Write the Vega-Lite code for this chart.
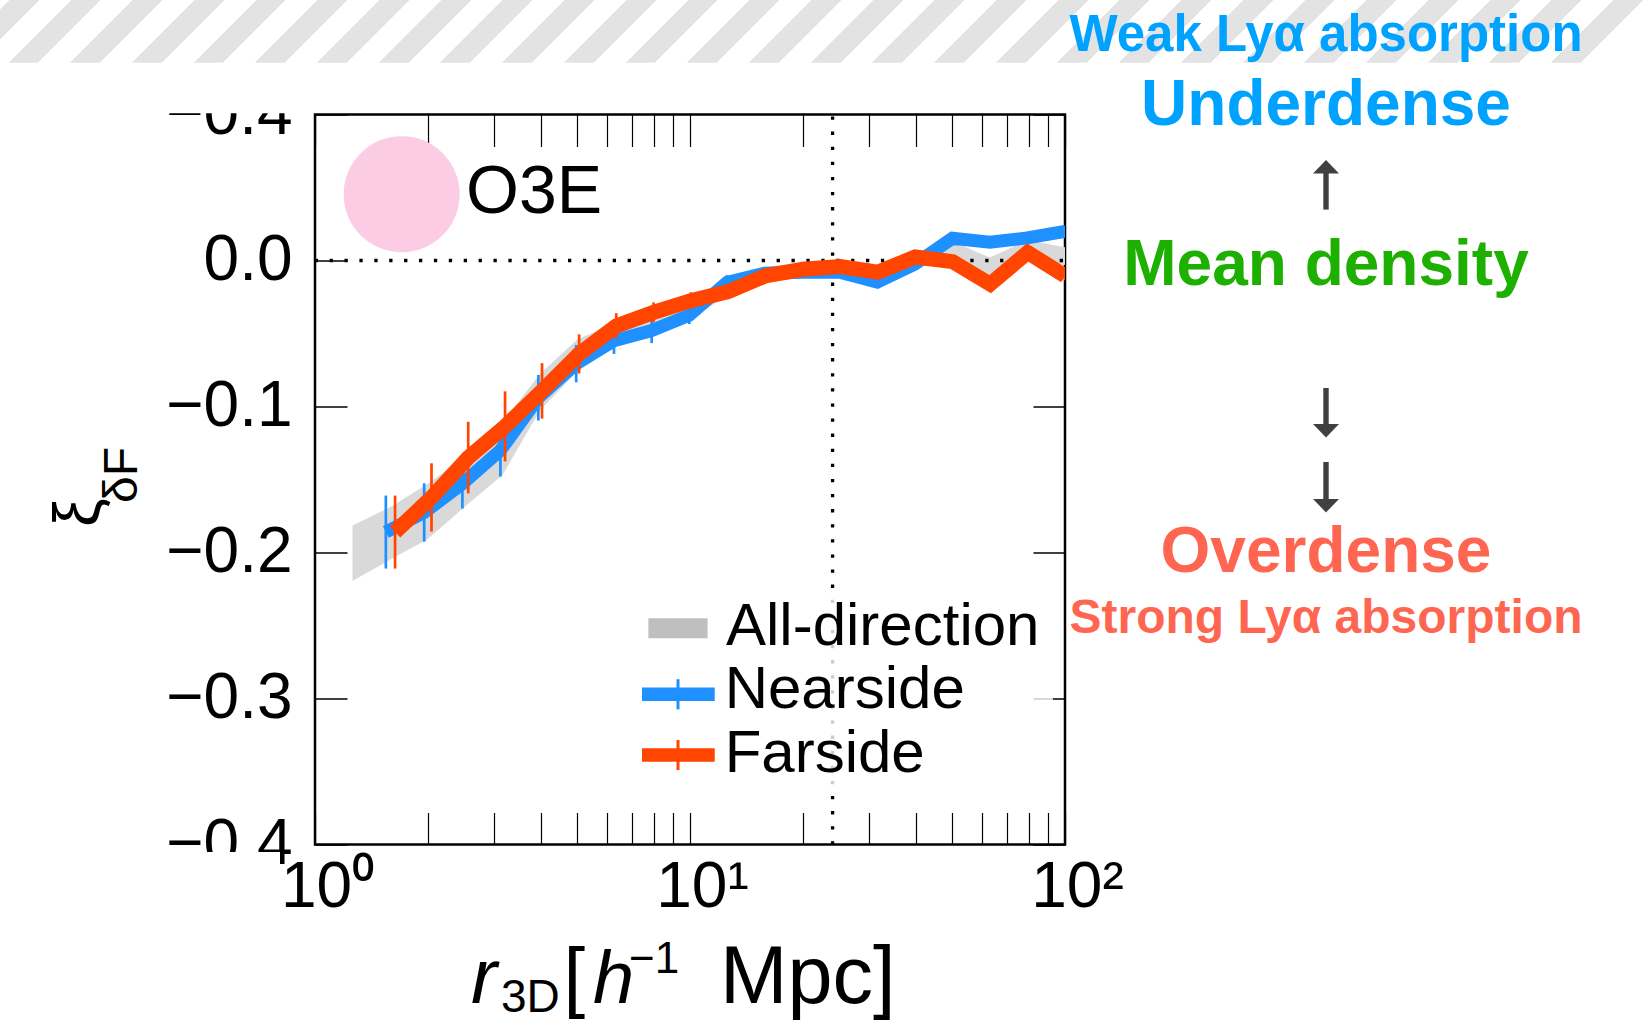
{
  "$schema": "https://vega.github.io/schema/vega-lite/v6.json",
  "width": 750,
  "height": 730,
  "autosize": {"type": "none"},
  "padding": {"left": 315, "top": 114.5, "right": 585, "bottom": 178.5},
  "background": "white",
  "config": {
    "view": {"stroke": "black", "strokeWidth": 2.5},
    "axis": {"grid": false, "domain": false, "tickColor": "black", "labelColor": "black", "labelFont": "Liberation Sans", "labelFontSize": 64}
  },
  "data": {"values": [{}]},
  "datasets": {
    "all": [
      {"r": 1.2589, "lo": -0.2195, "hi": -0.1815},
      {"r": 1.5849, "lo": -0.205, "hi": -0.169},
      {"r": 1.9953, "lo": -0.191, "hi": -0.153},
      {"r": 2.5119, "lo": -0.1685, "hi": -0.1345},
      {"r": 3.1623, "lo": -0.147, "hi": -0.111},
      {"r": 3.9811, "lo": -0.1025, "hi": -0.0775},
      {"r": 5.0119, "lo": -0.076, "hi": -0.054},
      {"r": 6.3096, "lo": -0.059, "hi": -0.043},
      {"r": 7.9433, "lo": -0.05, "hi": -0.036},
      {"r": 10, "lo": -0.04, "hi": -0.028},
      {"r": 12.589, "lo": -0.024, "hi": -0.012},
      {"r": 15.849, "lo": -0.0145, "hi": -0.0045},
      {"r": 19.953, "lo": -0.012, "hi": -0.002},
      {"r": 25.119, "lo": -0.011, "hi": -0.001},
      {"r": 31.623, "lo": -0.016, "hi": -0.006},
      {"r": 39.811, "lo": -0.005, "hi": 0.005},
      {"r": 50.119, "lo": 0.001, "hi": 0.013},
      {"r": 63.096, "lo": -0.01, "hi": 0.002},
      {"r": 79.433, "lo": 0.002, "hi": 0.014},
      {"r": 100, "lo": -0.003, "hi": 0.009}
    ],
    "near": [
      {"r": 1.545, "y": -0.186, "lo": -0.211, "hi": -0.161},
      {"r": 1.955, "y": -0.1726, "lo": -0.1926, "hi": -0.1526},
      {"r": 2.472, "y": -0.1529, "lo": -0.1699, "hi": -0.1359},
      {"r": 3.122, "y": -0.13, "lo": -0.148, "hi": -0.112},
      {"r": 3.941, "y": -0.094, "lo": -0.1096, "hi": -0.0784},
      {"r": 4.972, "y": -0.0706, "lo": -0.0834, "hi": -0.0578},
      {"r": 6.27, "y": -0.055, "lo": -0.064, "hi": -0.046},
      {"r": 7.903, "y": -0.048, "lo": -0.0566, "hi": -0.0394},
      {"r": 9.96, "y": -0.0375, "lo": -0.0435, "hi": -0.0315},
      {"r": 12.55, "y": -0.015, "lo": -0.02, "hi": -0.01},
      {"r": 15.81, "y": -0.0088, "lo": -0.0128, "hi": -0.0048},
      {"r": 19.91, "y": -0.008, "lo": -0.012, "hi": -0.004},
      {"r": 25.08, "y": -0.008, "lo": -0.012, "hi": -0.004},
      {"r": 31.58, "y": -0.0148, "lo": -0.0188, "hi": -0.0108},
      {"r": 39.77, "y": -0.0025, "lo": -0.0065, "hi": 0.0015},
      {"r": 50.08, "y": 0.0152, "lo": 0.0112, "hi": 0.0192},
      {"r": 63.06, "y": 0.0125, "lo": 0.0085, "hi": 0.0165},
      {"r": 79.39, "y": 0.0155, "lo": 0.0115, "hi": 0.0195},
      {"r": 99.96, "y": 0.02, "lo": 0.016, "hi": 0.024}
    ],
    "far": [
      {"r": 1.635, "y": -0.186, "lo": -0.211, "hi": -0.161},
      {"r": 2.045, "y": -0.1623, "lo": -0.1857, "hi": -0.1389},
      {"r": 2.562, "y": -0.135, "lo": -0.1595, "hi": -0.1105},
      {"r": 3.212, "y": -0.1136, "lo": -0.1376, "hi": -0.0896},
      {"r": 4.031, "y": -0.0893, "lo": -0.1083, "hi": -0.0703},
      {"r": 5.062, "y": -0.064, "lo": -0.0774, "hi": -0.0506},
      {"r": 6.36, "y": -0.0448, "lo": -0.0535, "hi": -0.0361},
      {"r": 7.993, "y": -0.0355, "lo": -0.0423, "hi": -0.0287},
      {"r": 10.05, "y": -0.0275, "lo": -0.0332, "hi": -0.0218},
      {"r": 12.64, "y": -0.0213, "lo": -0.0259, "hi": -0.0167},
      {"r": 15.9, "y": -0.0105, "lo": -0.014, "hi": -0.007},
      {"r": 20.0, "y": -0.006, "lo": -0.009, "hi": -0.003},
      {"r": 25.17, "y": -0.0042, "lo": -0.0072, "hi": -0.0012},
      {"r": 31.67, "y": -0.008, "lo": -0.011, "hi": -0.005},
      {"r": 39.86, "y": 0.0024, "lo": -0.0006, "hi": 0.0054},
      {"r": 50.17, "y": -0.0008, "lo": -0.0038, "hi": 0.0022},
      {"r": 63.15, "y": -0.0162, "lo": -0.0192, "hi": -0.0132},
      {"r": 79.48, "y": 0.0055, "lo": 0.0025, "hi": 0.0085},
      {"r": 100.05, "y": -0.0105, "lo": -0.0135, "hi": -0.0075}
    ]
  },
  "resolve": {"axis": {"x": "independent", "y": "independent"}},
  "layer": [
    {
      "mark": {"type": "rect", "fill": {"gradient": "linear", "x1": 0, "y1": 0, "x2": 1, "y2": 0.038, "stops": [
        {"offset": 0, "color": "#ffffff"},
        {"offset": 0.0056, "color": "#ffffff"}, {"offset": 0.0056, "color": "#e3e3e3"}, {"offset": 0.0238, "color": "#e3e3e3"}, {"offset": 0.0238, "color": "#ffffff"},
        {"offset": 0.043, "color": "#ffffff"}, {"offset": 0.043, "color": "#e3e3e3"}, {"offset": 0.0611, "color": "#e3e3e3"}, {"offset": 0.0611, "color": "#ffffff"},
        {"offset": 0.0803, "color": "#ffffff"}, {"offset": 0.0803, "color": "#e3e3e3"}, {"offset": 0.0985, "color": "#e3e3e3"}, {"offset": 0.0985, "color": "#ffffff"},
        {"offset": 0.1177, "color": "#ffffff"}, {"offset": 0.1177, "color": "#e3e3e3"}, {"offset": 0.1358, "color": "#e3e3e3"}, {"offset": 0.1358, "color": "#ffffff"},
        {"offset": 0.155, "color": "#ffffff"}, {"offset": 0.155, "color": "#e3e3e3"}, {"offset": 0.1731, "color": "#e3e3e3"}, {"offset": 0.1731, "color": "#ffffff"},
        {"offset": 0.1923, "color": "#ffffff"}, {"offset": 0.1923, "color": "#e3e3e3"}, {"offset": 0.2105, "color": "#e3e3e3"}, {"offset": 0.2105, "color": "#ffffff"},
        {"offset": 0.2297, "color": "#ffffff"}, {"offset": 0.2297, "color": "#e3e3e3"}, {"offset": 0.2478, "color": "#e3e3e3"}, {"offset": 0.2478, "color": "#ffffff"},
        {"offset": 0.267, "color": "#ffffff"}, {"offset": 0.267, "color": "#e3e3e3"}, {"offset": 0.2852, "color": "#e3e3e3"}, {"offset": 0.2852, "color": "#ffffff"},
        {"offset": 0.3044, "color": "#ffffff"}, {"offset": 0.3044, "color": "#e3e3e3"}, {"offset": 0.3225, "color": "#e3e3e3"}, {"offset": 0.3225, "color": "#ffffff"},
        {"offset": 0.3417, "color": "#ffffff"}, {"offset": 0.3417, "color": "#e3e3e3"}, {"offset": 0.3598, "color": "#e3e3e3"}, {"offset": 0.3598, "color": "#ffffff"},
        {"offset": 0.379, "color": "#ffffff"}, {"offset": 0.379, "color": "#e3e3e3"}, {"offset": 0.3972, "color": "#e3e3e3"}, {"offset": 0.3972, "color": "#ffffff"},
        {"offset": 0.4164, "color": "#ffffff"}, {"offset": 0.4164, "color": "#e3e3e3"}, {"offset": 0.4345, "color": "#e3e3e3"}, {"offset": 0.4345, "color": "#ffffff"},
        {"offset": 0.4537, "color": "#ffffff"}, {"offset": 0.4537, "color": "#e3e3e3"}, {"offset": 0.4719, "color": "#e3e3e3"}, {"offset": 0.4719, "color": "#ffffff"},
        {"offset": 0.4911, "color": "#ffffff"}, {"offset": 0.4911, "color": "#e3e3e3"}, {"offset": 0.5092, "color": "#e3e3e3"}, {"offset": 0.5092, "color": "#ffffff"},
        {"offset": 0.5284, "color": "#ffffff"}, {"offset": 0.5284, "color": "#e3e3e3"}, {"offset": 0.5465, "color": "#e3e3e3"}, {"offset": 0.5465, "color": "#ffffff"},
        {"offset": 0.5657, "color": "#ffffff"}, {"offset": 0.5657, "color": "#e3e3e3"}, {"offset": 0.5839, "color": "#e3e3e3"}, {"offset": 0.5839, "color": "#ffffff"},
        {"offset": 0.6031, "color": "#ffffff"}, {"offset": 0.6031, "color": "#e3e3e3"}, {"offset": 0.6212, "color": "#e3e3e3"}, {"offset": 0.6212, "color": "#ffffff"},
        {"offset": 0.6404, "color": "#ffffff"}, {"offset": 0.6404, "color": "#e3e3e3"}, {"offset": 0.6586, "color": "#e3e3e3"}, {"offset": 0.6586, "color": "#ffffff"},
        {"offset": 0.6778, "color": "#ffffff"}, {"offset": 0.6778, "color": "#e3e3e3"}, {"offset": 0.6959, "color": "#e3e3e3"}, {"offset": 0.6959, "color": "#ffffff"},
        {"offset": 0.7151, "color": "#ffffff"}, {"offset": 0.7151, "color": "#e3e3e3"}, {"offset": 0.7332, "color": "#e3e3e3"}, {"offset": 0.7332, "color": "#ffffff"},
        {"offset": 0.7524, "color": "#ffffff"}, {"offset": 0.7524, "color": "#e3e3e3"}, {"offset": 0.7706, "color": "#e3e3e3"}, {"offset": 0.7706, "color": "#ffffff"},
        {"offset": 0.7898, "color": "#ffffff"}, {"offset": 0.7898, "color": "#e3e3e3"}, {"offset": 0.8079, "color": "#e3e3e3"}, {"offset": 0.8079, "color": "#ffffff"},
        {"offset": 0.8271, "color": "#ffffff"}, {"offset": 0.8271, "color": "#e3e3e3"}, {"offset": 0.8453, "color": "#e3e3e3"}, {"offset": 0.8453, "color": "#ffffff"},
        {"offset": 0.8645, "color": "#ffffff"}, {"offset": 0.8645, "color": "#e3e3e3"}, {"offset": 0.8826, "color": "#e3e3e3"}, {"offset": 0.8826, "color": "#ffffff"},
        {"offset": 0.9018, "color": "#ffffff"}, {"offset": 0.9018, "color": "#e3e3e3"}, {"offset": 0.9199, "color": "#e3e3e3"}, {"offset": 0.9199, "color": "#ffffff"},
        {"offset": 0.9391, "color": "#ffffff"}, {"offset": 0.9391, "color": "#e3e3e3"}, {"offset": 0.9573, "color": "#e3e3e3"}, {"offset": 0.9573, "color": "#ffffff"},
        {"offset": 0.9765, "color": "#ffffff"}, {"offset": 0.9765, "color": "#e3e3e3"}, {"offset": 0.9946, "color": "#e3e3e3"}, {"offset": 0.9946, "color": "#ffffff"},
        {"offset": 1, "color": "#ffffff"}
      ]}},
      "encoding": {
        "x": {"datum": 0.1445, "type": "quantitative", "axis": null},
        "x2": {"datum": 3631},
        "y": {"datum": 0.17842, "type": "quantitative", "axis": null},
        "y2": {"datum": 0.13548}
      }
    },
    {
      "mark": {"type": "rect", "fill": "white"},
      "encoding": {
        "x": {"datum": 0.3631, "type": "quantitative", "axis": null},
        "x2": {"datum": 0.912},
        "y": {"datum": 0.10082, "type": "quantitative", "axis": null},
        "y2": {"datum": 0.13459}
      }
    },
    {
      "mark": {"type": "rect", "fill": "white"},
      "encoding": {
        "x": {"datum": 0.3631, "type": "quantitative", "axis": null},
        "x2": {"datum": 0.8066},
        "y": {"datum": -0.40514, "type": "quantitative", "axis": null},
        "y2": {"datum": -0.4195}
      }
    },
    {
      "data": {"name": "all"},
      "mark": {"type": "area", "fill": "#d9d9d9", "opacity": 1, "clip": true},
      "encoding": {
        "x": {"field": "r", "type": "quantitative",
          "scale": {"type": "log", "domain": [1, 100], "nice": false},
          "axis": {"orient": "bottom", "values": [1, 2, 3, 4, 5, 6, 7, 8, 9, 10, 20, 30, 40, 50, 60, 70, 80, 90, 100],
            "labelExpr": "datum.value == 1 ? '10⁰' : datum.value == 10 ? '10¹' : datum.value == 100 ? '10²' : ''",
            "tickSize": -32, "tickWidth": 1.2, "labelPadding": 43, "labelOffset": 12, "labelOverlap": false, "labelFlush": false, "labelBound": false, "labelBaseline": "top", "title": null}},
        "y": {"field": "lo", "type": "quantitative",
          "scale": {"domain": [-0.4, 0.1], "nice": false, "zero": false},
          "axis": {"orient": "left", "values": [-0.4, -0.3, -0.2, -0.1, 0, 0.1],
            "labelExpr": "datum.value > 0.05 ? '−0.4' : datum.value > -0.05 ? '0.0' : datum.value > -0.15 ? '−0.1' : datum.value > -0.25 ? '−0.2' : datum.value > -0.35 ? '−0.3' : '−0.4'",
            "tickSize": -32, "tickWidth": 1.5, "labelPadding": 55, "labelOffset": 0, "labelOverlap": false, "labelFlush": false, "labelBound": false, "labelBaseline": "middle", "title": null,
            "encode": {"labels": {"update": {"dy": {"signal": "datum.value > 0.05 ? 2 : -4"}}}}}},
        "y2": {"field": "hi"}
      }
    },
    {
      "mark": {"type": "rule", "color": "black", "strokeWidth": 3.3, "strokeDash": [3.3, 11.6], "strokeDashOffset": -2},
      "encoding": {"y": {"datum": 0, "type": "quantitative", "axis": null}}
    },
    {
      "mark": {"type": "rule", "color": "black", "strokeWidth": 3.3, "strokeDash": [3.3, 11.8], "strokeDashOffset": -2},
      "encoding": {"x": {"datum": 24, "type": "quantitative", "axis": null}}
    },
    {
      "data": {"name": "near"},
      "mark": {"type": "line", "color": "#1e90ff", "strokeWidth": 13, "strokeJoin": "miter", "strokeCap": "butt", "clip": true},
      "encoding": {
        "x": {"field": "r", "type": "quantitative",
          "axis": {"orient": "top", "values": [1, 2, 3, 4, 5, 6, 7, 8, 9, 10, 20, 30, 40, 50, 60, 70, 80, 90, 100], "labels": false, "tickSize": -32, "tickWidth": 1.2, "title": null}},
        "y": {"field": "y", "type": "quantitative",
          "axis": {"orient": "right", "values": [-0.4, -0.3, -0.2, -0.1, 0, 0.1], "labels": false, "tickSize": -32, "tickWidth": 1.5, "title": null}}
      }
    },
    {
      "data": {"name": "near"},
      "mark": {"type": "rule", "color": "#1e90ff", "strokeWidth": 2.7, "clip": true},
      "encoding": {
        "x": {"field": "r", "type": "quantitative", "axis": null},
        "y": {"field": "lo", "type": "quantitative", "axis": null},
        "y2": {"field": "hi"}
      }
    },
    {
      "data": {"name": "far"},
      "mark": {"type": "line", "color": "#ff4500", "strokeWidth": 15, "strokeJoin": "miter", "strokeCap": "butt", "clip": true},
      "encoding": {
        "x": {"field": "r", "type": "quantitative", "axis": null},
        "y": {"field": "y", "type": "quantitative", "axis": null}
      }
    },
    {
      "data": {"name": "far"},
      "mark": {"type": "rule", "color": "#ff4500", "strokeWidth": 2.7, "clip": true},
      "encoding": {
        "x": {"field": "r", "type": "quantitative", "axis": null},
        "y": {"field": "lo", "type": "quantitative", "axis": null},
        "y2": {"field": "hi"}
      }
    },
    {
      "mark": {"type": "point", "shape": "circle", "filled": true, "color": "#fbcce4", "opacity": 1, "size": 13456, "strokeWidth": 0},
      "encoding": {
        "x": {"datum": 1.7026, "type": "quantitative", "axis": null},
        "y": {"datum": 0.04541, "type": "quantitative", "axis": null}
      }
    },
    {
      "mark": {"type": "text", "text": "O3E", "font": "Liberation Sans", "fontSize": 68, "align": "left", "baseline": "alphabetic", "fill": "black"},
      "encoding": {
        "x": {"datum": 2.5278, "type": "quantitative", "axis": null},
        "y": {"datum": 0.03233, "type": "quantitative", "axis": null}
      }
    },
    {
      "mark": {"type": "rect", "fill": "white", "opacity": 0.8},
      "encoding": {
        "x": {"datum": 6.918, "type": "quantitative", "axis": null},
        "x2": {"datum": 92.9},
        "y": {"datum": -0.2298, "type": "quantitative", "axis": null},
        "y2": {"datum": -0.3627}
      }
    },
    {
      "mark": {"type": "rect", "fill": "#bfbfbf"},
      "encoding": {
        "x": {"datum": 7.745, "type": "quantitative", "axis": null},
        "x2": {"datum": 11.14},
        "y": {"datum": -0.2451, "type": "quantitative", "axis": null},
        "y2": {"datum": -0.2588}
      }
    },
    {
      "mark": {"type": "rule", "color": "#1e90ff", "strokeWidth": 13.3, "strokeCap": "butt"},
      "encoding": {
        "x": {"datum": 7.447, "type": "quantitative", "axis": null},
        "x2": {"datum": 11.64},
        "y": {"datum": -0.2971, "type": "quantitative", "axis": null}
      }
    },
    {
      "mark": {"type": "rule", "color": "#1e90ff", "strokeWidth": 3, "strokeCap": "butt"},
      "encoding": {
        "x": {"datum": 9.29, "type": "quantitative", "axis": null},
        "y": {"datum": -0.2868, "type": "quantitative", "axis": null},
        "y2": {"datum": -0.3074}
      }
    },
    {
      "mark": {"type": "rule", "color": "#ff4500", "strokeWidth": 13.3, "strokeCap": "butt"},
      "encoding": {
        "x": {"datum": 7.447, "type": "quantitative", "axis": null},
        "x2": {"datum": 11.64},
        "y": {"datum": -0.3387, "type": "quantitative", "axis": null}
      }
    },
    {
      "mark": {"type": "rule", "color": "#ff4500", "strokeWidth": 3, "strokeCap": "butt"},
      "encoding": {
        "x": {"datum": 9.29, "type": "quantitative", "axis": null},
        "y": {"datum": -0.3284, "type": "quantitative", "axis": null},
        "y2": {"datum": -0.349}
      }
    },
    {
      "mark": {"type": "text", "text": "All-direction", "font": "Liberation Sans", "fontSize": 60, "align": "left", "baseline": "alphabetic", "fill": "black"},
      "encoding": {
        "x": {"datum": 12.474, "type": "quantitative", "axis": null},
        "y": {"datum": -0.26336, "type": "quantitative", "axis": null}
      }
    },
    {
      "mark": {"type": "text", "text": "Nearside", "font": "Liberation Sans", "fontSize": 60, "align": "left", "baseline": "alphabetic", "fill": "black"},
      "encoding": {
        "x": {"datum": 12.372, "type": "quantitative", "axis": null},
        "y": {"datum": -0.30671, "type": "quantitative", "axis": null}
      }
    },
    {
      "mark": {"type": "text", "text": "Farside", "font": "Liberation Sans", "fontSize": 60, "align": "left", "baseline": "alphabetic", "fill": "black"},
      "encoding": {
        "x": {"datum": 12.37, "type": "quantitative", "axis": null},
        "y": {"datum": -0.35014, "type": "quantitative", "axis": null}
      }
    },
    {
      "mark": {"type": "text", "text": "Weak Lyα absorption", "font": "Liberation Sans", "fontWeight": "bold", "fontSize": 51, "align": "center", "baseline": "alphabetic", "fill": "#00a2ff"},
      "encoding": {
        "x": {"datum": 496.6, "type": "quantitative", "axis": null},
        "y": {"datum": 0.1438, "type": "quantitative", "axis": null}
      }
    },
    {
      "mark": {"type": "text", "text": "Underdense", "font": "Liberation Sans", "fontWeight": "bold", "fontSize": 64, "align": "center", "baseline": "alphabetic", "fill": "#00a2ff"},
      "encoding": {
        "x": {"datum": 496.6, "type": "quantitative", "axis": null},
        "y": {"datum": 0.09253, "type": "quantitative", "axis": null}
      }
    },
    {
      "mark": {"type": "text", "text": "Mean density", "font": "Liberation Sans", "fontWeight": "bold", "fontSize": 64, "align": "center", "baseline": "alphabetic", "fill": "#1db000"},
      "encoding": {
        "x": {"datum": 496.6, "type": "quantitative", "axis": null},
        "y": {"datum": -0.01705, "type": "quantitative", "axis": null}
      }
    },
    {
      "mark": {"type": "text", "text": "Overdense", "font": "Liberation Sans", "fontWeight": "bold", "fontSize": 64, "align": "center", "baseline": "alphabetic", "fill": "#ff6652"},
      "encoding": {
        "x": {"datum": 496.6, "type": "quantitative", "axis": null},
        "y": {"datum": -0.2136, "type": "quantitative", "axis": null}
      }
    },
    {
      "mark": {"type": "text", "text": "Strong Lyα absorption", "font": "Liberation Sans", "fontWeight": "bold", "fontSize": 48, "align": "center", "baseline": "alphabetic", "fill": "#ff6652"},
      "encoding": {
        "x": {"datum": 496.6, "type": "quantitative", "axis": null},
        "y": {"datum": -0.2554, "type": "quantitative", "axis": null}
      }
    },
    {
      "mark": {"type": "rule", "color": "#404040", "strokeWidth": 5.4, "strokeCap": "butt"},
      "encoding": {
        "x": {"datum": 496.6, "type": "quantitative", "axis": null},
        "y": {"datum": 0.0605, "type": "quantitative", "axis": null},
        "y2": {"datum": 0.03486}
      }
    },
    {
      "mark": {"type": "point", "shape": "M0,-0.52L1,0.52L-1,0.52Z", "size": 676, "filled": true, "color": "#404040", "opacity": 1, "strokeWidth": 0},
      "encoding": {
        "x": {"datum": 496.6, "type": "quantitative", "axis": null},
        "y": {"datum": 0.06425, "type": "quantitative", "axis": null}
      }
    },
    {
      "mark": {"type": "rule", "color": "#404040", "strokeWidth": 5.4, "strokeCap": "butt"},
      "encoding": {
        "x": {"datum": 496.6, "type": "quantitative", "axis": null},
        "y": {"datum": -0.08733, "type": "quantitative", "axis": null},
        "y2": {"datum": -0.1125}
      }
    },
    {
      "mark": {"type": "point", "shape": "M0,0.52L1,-0.52L-1,-0.52Z", "size": 676, "filled": true, "color": "#404040", "opacity": 1, "strokeWidth": 0},
      "encoding": {
        "x": {"datum": 496.6, "type": "quantitative", "axis": null},
        "y": {"datum": -0.11668, "type": "quantitative", "axis": null}
      }
    },
    {
      "mark": {"type": "rule", "color": "#404040", "strokeWidth": 5.4, "strokeCap": "butt"},
      "encoding": {
        "x": {"datum": 496.6, "type": "quantitative", "axis": null},
        "y": {"datum": -0.13801, "type": "quantitative", "axis": null},
        "y2": {"datum": -0.1637}
      }
    },
    {
      "mark": {"type": "point", "shape": "M0,0.52L1,-0.52L-1,-0.52Z", "size": 676, "filled": true, "color": "#404040", "opacity": 1, "strokeWidth": 0},
      "encoding": {
        "x": {"datum": 496.6, "type": "quantitative", "axis": null},
        "y": {"datum": -0.16791, "type": "quantitative", "axis": null}
      }
    },
    {
      "mark": {"type": "text", "text": "ξ", "font": "Liberation Sans", "fontSize": 64, "angle": 270, "align": "left", "baseline": "alphabetic", "fill": "black"},
      "encoding": {
        "x": {"datum": 0.26546, "type": "quantitative", "axis": null},
        "y": {"datum": -0.18253, "type": "quantitative", "axis": null}
      }
    },
    {
      "mark": {"type": "text", "text": "δF", "font": "Liberation Sans", "fontSize": 48, "angle": 270, "align": "left", "baseline": "alphabetic", "fill": "black"},
      "encoding": {
        "x": {"datum": 0.33513, "type": "quantitative", "axis": null},
        "y": {"datum": -0.1661, "type": "quantitative", "axis": null}
      }
    },
    {
      "mark": {"type": "text", "text": "r", "font": "Liberation Sans", "fontStyle": "italic", "fontSize": 78, "align": "left", "baseline": "alphabetic", "fill": "black"},
      "encoding": {
        "x": {"datum": 2.6062, "type": "quantitative", "axis": null},
        "y": {"datum": -0.50856, "type": "quantitative", "axis": null}
      }
    },
    {
      "mark": {"type": "text", "text": "3D", "font": "Liberation Sans", "fontSize": 46, "align": "left", "baseline": "alphabetic", "fill": "black"},
      "encoding": {
        "x": {"datum": 3.1333, "type": "quantitative", "axis": null},
        "y": {"datum": -0.51473, "type": "quantitative", "axis": null}
      }
    },
    {
      "mark": {"type": "text", "text": "[", "font": "Liberation Sans", "fontSize": 78, "align": "left", "baseline": "alphabetic", "fill": "black"},
      "encoding": {
        "x": {"datum": 4.5997, "type": "quantitative", "axis": null},
        "y": {"datum": -0.50856, "type": "quantitative", "axis": null}
      }
    },
    {
      "mark": {"type": "text", "text": "h", "font": "Liberation Sans", "fontStyle": "italic", "fontSize": 74, "align": "left", "baseline": "alphabetic", "fill": "black"},
      "encoding": {
        "x": {"datum": 5.5123, "type": "quantitative", "axis": null},
        "y": {"datum": -0.50856, "type": "quantitative", "axis": null}
      }
    },
    {
      "mark": {"type": "text", "text": "−1", "font": "Liberation Sans", "fontSize": 44, "align": "left", "baseline": "alphabetic", "fill": "black"},
      "encoding": {
        "x": {"datum": 6.8766, "type": "quantitative", "axis": null},
        "y": {"datum": -0.48801, "type": "quantitative", "axis": null}
      }
    },
    {
      "mark": {"type": "text", "text": "Mpc]", "font": "Liberation Sans", "fontSize": 81, "align": "left", "baseline": "alphabetic", "fill": "black"},
      "encoding": {
        "x": {"datum": 12.023, "type": "quantitative", "axis": null},
        "y": {"datum": -0.50856, "type": "quantitative", "axis": null}
      }
    }
  ]
}
